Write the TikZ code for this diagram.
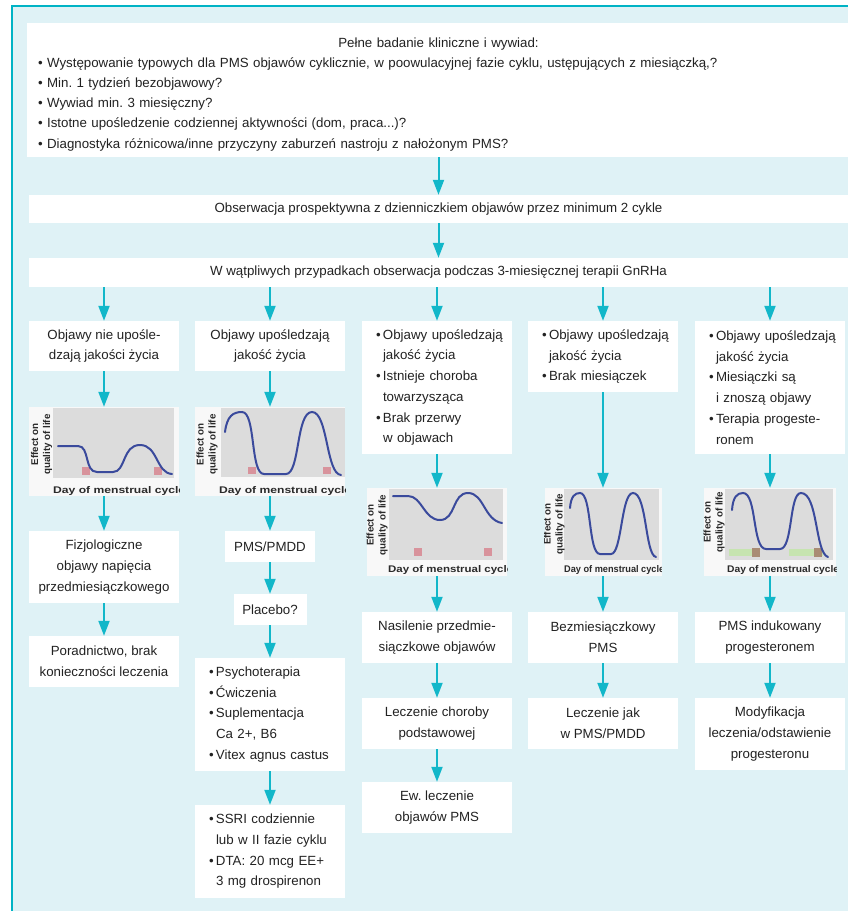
\documentclass[tikz,border=0pt]{standalone}
\usepackage{fontspec}
\setmainfont{Liberation Sans}
\usetikzlibrary{arrows.meta}
\setlength\parindent{0pt}
\setlength\parskip{0pt}
\frenchspacing

\definecolor{bgcyan}{HTML}{DFF2F6}
\definecolor{rulecyan}{HTML}{00B3C5}
\definecolor{arrowcyan}{HTML}{12B7C9}
\definecolor{ink}{HTML}{222222}
\definecolor{chartwhite}{HTML}{F8F8F8}
\definecolor{plotgrey}{HTML}{DCDCDC}
\definecolor{curveblue}{HTML}{3A4A9C}
\definecolor{menses}{HTML}{D8939C}
\definecolor{pillgreen}{HTML}{C6E4B0}
\definecolor{pillbrown}{HTML}{A98C74}
\definecolor{labelgrey}{HTML}{2A2A2A}

% bullet item and its indented continuation line
\newcommand\bul{\hspace*{7pt}\makebox[7pt][l]{•}}
\newcommand\cont{\hspace*{14pt}}

\begin{document}
\begin{tikzpicture}[x=1pt,y=-1pt,
  box/.style={fill=white, inner sep=0pt, text=ink, align=center,
    font=\fontsize{13.3}{20.7}\selectfont},
  listbox/.style={box, align=left, inner xsep=7pt, text width=136pt},
  chartbox/.style={fill=chartwhite, inner sep=0pt, minimum height=88pt},
  arr/.style={draw=arrowcyan, line width=2pt, -{Triangle[width=11pt,length=15pt]}},
  cyclecurve/.style={draw=curveblue, line width=2pt, line cap=round},
  ylab/.style={rotate=90, align=center, inner sep=0pt, text=labelgrey,
    font=\bfseries\fontsize{9.8}{12}\selectfont},
  xlab/.style={anchor=west, inner sep=0pt, text=labelgrey, font=\bfseries}]

\useasboundingbox (0,0) rectangle (848,911);
\fill[bgcyan] (12,6) rectangle (848,911);
\draw[rulecyan, line width=2pt] (12,911) -- (12,6) -- (848,6);

% ---- common trunk ----
\node[box, minimum width=819pt, minimum height=134pt, text width=801pt,
  inner xsep=11pt, align=left, font=\fontsize{13.3}{20.2}\selectfont] (top) at (438.5,90)
  {{\centering\rule{0pt}{18pt}Pełne badanie kliniczne i wywiad:\par}%
   • Występowanie typowych dla PMS objawów cyklicznie, w poowulacyjnej fazie cyklu, ustępujących z miesiączką,?\par
   • Min. 1 tydzień bezobjawowy?\par
   • Wywiad min. 3 miesięczny?\par
   • Istotne upośledzenie codziennej aktywności (dom, praca...)?\par
   • Diagnostyka różnicowa/inne przyczyny zaburzeń nastroju z nałożonym PMS?};

\node[box, minimum width=819pt, minimum height=28pt] (obs) at (438.5,209)
  {Obserwacja prospektywna z dzienniczkiem objawów przez minimum 2 cykle};
\node[box, minimum width=819pt, minimum height=29pt] (gnrh) at (438.5,272.5)
  {W wątpliwych przypadkach obserwacja podczas 3-miesięcznej terapii GnRHa};

% ---- first row of the five branches ----
\node[box, minimum width=150pt, minimum height=50pt] (c1a) at (104,346)
  {Objawy nie upośle-\\dzają jakości życia};
\node[box, minimum width=150pt, minimum height=50pt] (c2a) at (270,346)
  {Objawy upośledzają\\jakość życia};
\node[listbox, minimum height=133pt] (c3a) at (437,387.5)
  {\bul Objawy upośledzają\\\cont jakość życia\\\bul Istnieje choroba\\\cont towarzysząca\\\bul Brak przerwy\\\cont w objawach};
\node[listbox, minimum height=71pt] (c4a) at (603,356.5)
  {\bul Objawy upośledzają\\\cont jakość życia\\\bul Brak miesiączek};
\node[listbox, minimum height=133pt] (c5a) at (770,387.5)
  {\bul Objawy upośledzają\\\cont jakość życia\\\bul Miesiączki są\\\cont i znoszą objawy\\\bul Terapia progeste-\\\cont ronem};

% ---- charts ----
\node[chartbox, minimum width=150pt, minimum height=89pt] (g1) at (104,451.5) {};
\node[chartbox, minimum width=150pt, minimum height=89pt] (g2) at (270,451.5) {};
\node[chartbox, minimum width=140pt] (g3) at (437,532) {};
\node[chartbox, minimum width=117pt] (g4) at (603,532) {};
\node[chartbox, minimum width=132pt] (g5) at (770,532) {};

\begin{scope}
  \clip (g1.south west) rectangle (g1.north east);
  \fill[plotgrey] (53,408) rectangle (174,478);
  \fill[menses] (82,467) rectangle (90,475);
  \fill[menses] (154,467) rectangle (162,475);
  \draw[cyclecurve] (58,446) -- (78,446) .. controls (90,446) and (84,472) .. (97,472)
    -- (113,472) .. controls (126,472) and (122,445) .. (140,445)
    .. controls (158,445) and (156,473) .. (172,474);
  \node[ylab] at (41.5,444.5) {Effect on\\quality of life};
  \node[xlab] at (53,491) {\resizebox{132pt}{7pt}{Day of menstrual cycle}};
\end{scope}

\begin{scope}
  \clip (g2.south west) rectangle (g2.north east);
  \fill[plotgrey] (221,408) rectangle (345,477);
  \fill[menses] (248,467) rectangle (256,474);
  \fill[menses] (323,467) rectangle (331,474);
  \draw[cyclecurve] (225,432) .. controls (227,416) and (233,412) .. (242,412)
    .. controls (256,412) and (250,474) .. (264,474) -- (286,474)
    .. controls (300,474) and (296,412) .. (312,412)
    .. controls (328,412) and (326,474) .. (341,475);
  \node[ylab] at (207,444.5) {Effect on\\quality of life};
  \node[xlab] at (219,491) {\resizebox{132pt}{7pt}{Day of menstrual cycle}};
\end{scope}

\begin{scope}
  \clip (g3.south west) rectangle (g3.north east);
  \fill[plotgrey] (389,489) rectangle (503,560);
  \fill[menses] (414,548) rectangle (422,556);
  \fill[menses] (484,548) rectangle (492,556);
  \draw[cyclecurve] (393,496) -- (408,496) .. controls (422,496) and (424,520) .. (440,520)
    .. controls (456,520) and (452,493) .. (468,493)
    .. controls (484,493) and (484,520) .. (502,523);
  \node[ylab] at (377,525) {Effect on\\quality of life};
  \node[xlab] at (388,570) {\resizebox{125pt}{7pt}{Day of menstrual cycle}};
\end{scope}

\begin{scope}
  \clip (g4.south west) rectangle (g4.north east);
  \fill[plotgrey] (564,489) rectangle (659,560);
  \draw[cyclecurve] (570,508) .. controls (571,496) and (575,493) .. (580,493)
    .. controls (592,493) and (588,554) .. (600,554) -- (611,554)
    .. controls (622,554) and (621,493) .. (633,493)
    .. controls (647,493) and (645,555) .. (656,557);
  \node[ylab] at (554,524) {Effect on\\quality of life};
  \node[xlab] at (564,570) {\resizebox{100pt}{7pt}{Day of menstrual cycle}};
\end{scope}

\begin{scope}
  \clip (g5.south west) rectangle (g5.north east);
  \fill[plotgrey] (725,489) rectangle (833,560);
  \fill[pillgreen] (729,549) rectangle (760,556);
  \fill[pillgreen] (789,549) rectangle (823,556);
  \fill[pillbrown] (752,548) rectangle (760,557);
  \fill[pillbrown] (814,548) rectangle (822,557);
  \draw[cyclecurve] (732,510) .. controls (733,497) and (737,493) .. (743,493)
    .. controls (757,493) and (752,549) .. (766,549) -- (780,549)
    .. controls (793,549) and (789,493) .. (801,493)
    .. controls (818,493) and (815,553) .. (828,557);
  \node[ylab] at (714,522) {Effect on\\quality of life};
  \node[xlab] at (727,570) {\resizebox{112pt}{7pt}{Day of menstrual cycle}};
\end{scope}

% ---- lower boxes ----
\node[box, minimum width=150pt, minimum height=72pt] (c1b) at (104,567)
  {Fizjologiczne\\objawy napięcia\\przedmiesiączkowego};
\node[box, minimum width=150pt, minimum height=51pt] (c1c) at (104,661.5)
  {Poradnictwo, brak\\konieczności leczenia};

\node[box, minimum width=90pt, minimum height=31pt] (c2b) at (270,546.5) {PMS/PMDD};
\node[box, minimum width=73pt, minimum height=31pt] (c2c) at (270,609.5) {Placebo?};
\node[listbox, minimum height=113pt] (c2d) at (270,714.5)
  {\bul Psychoterapia\\\bul Ćwiczenia\\\bul Suplementacja\\\cont Ca 2+, B6\\\bul Vitex agnus castus};
\node[listbox, minimum height=93pt] (c2e) at (270,851.5)
  {\bul SSRI codziennie\\\cont lub w II fazie cyklu\\\bul DTA: 20 mcg EE+\\\cont 3 mg drospirenon};

\node[box, minimum width=150pt, minimum height=51pt] (c3b) at (437,637.5)
  {Nasilenie przedmie-\\siączkowe objawów};
\node[box, minimum width=150pt, minimum height=51pt] (c3c) at (437,723.5)
  {Leczenie choroby\\podstawowej};
\node[box, minimum width=150pt, minimum height=51pt] (c3d) at (437,807.5)
  {Ew. leczenie\\objawów PMS};

\node[box, minimum width=150pt, minimum height=51pt] (c4b) at (603,637.5)
  {Bezmiesiączkowy\\PMS};
\node[box, minimum width=150pt, minimum height=51pt] (c4c) at (603,723.5)
  {Leczenie jak\\w PMS/PMDD};

\node[box, minimum width=150pt, minimum height=51pt] (c5b) at (770,637.5)
  {PMS indukowany\\progesteronem};
\node[box, minimum width=150pt, minimum height=72pt] (c5c) at (770,734)
  {Modyfikacja\\leczenia/odstawienie\\progesteronu};

% ---- connectors ----
\draw[arr] (top.south) -- (obs.north);
\draw[arr] (obs.south) -- (gnrh.north);
\foreach \c in {c1a,c2a,c3a,c4a,c5a}
  \draw[arr] (\c.north |- gnrh.south) -- (\c.north);

\draw[arr] (c1a.south) -- (g1.north);
\draw[arr] (g1.south) -- (c1b.north);
\draw[arr] (c1b.south) -- (c1c.north);

\draw[arr] (c2a.south) -- (g2.north);
\draw[arr] (g2.south) -- (c2b.north);
\draw[arr] (c2b.south) -- (c2c.north);
\draw[arr] (c2c.south) -- (c2d.north);
\draw[arr] (c2d.south) -- (c2e.north);

\draw[arr] (c3a.south) -- (g3.north);
\draw[arr] (g3.south) -- (c3b.north);
\draw[arr] (c3b.south) -- (c3c.north);
\draw[arr] (c3c.south) -- (c3d.north);

\draw[arr] (c4a.south) -- (g4.north);
\draw[arr] (g4.south) -- (c4b.north);
\draw[arr] (c4b.south) -- (c4c.north);

\draw[arr] (c5a.south) -- (g5.north);
\draw[arr] (g5.south) -- (c5b.north);
\draw[arr] (c5b.south) -- (c5c.north);
\end{tikzpicture}
\end{document}
